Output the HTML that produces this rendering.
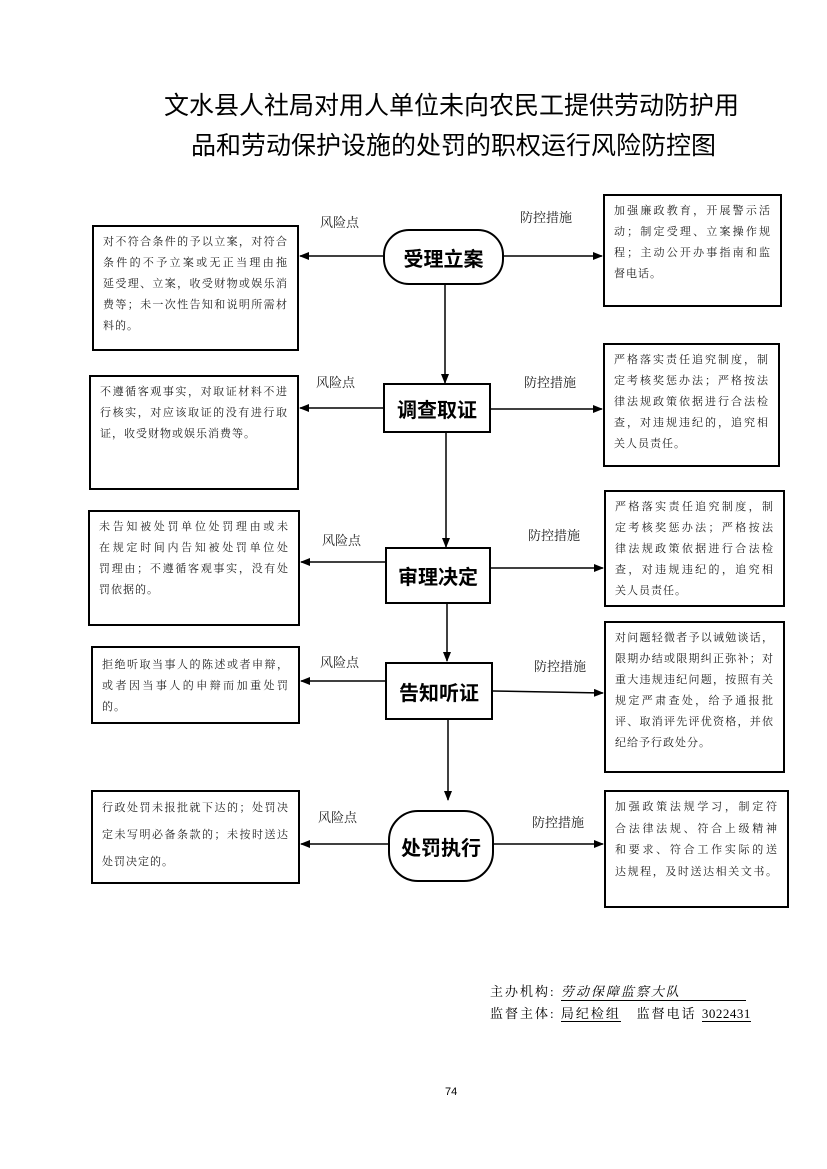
<!DOCTYPE html>
<html><head><meta charset="utf-8"><style>
body{margin:0;width:827px;height:1169px;background:#fff;position:relative;font-family:"Liberation Serif","Noto Serif CJK SC",serif;overflow:hidden}
.a{position:absolute}
.t{font-family:"Liberation Sans","Noto Sans CJK SC",sans-serif;font-size:25px;text-align:center;width:827px;color:#000}
.b{position:absolute;border:2px solid #000;box-sizing:border-box;font-size:11px;line-height:21px;padding:5px 9px 0 9px;color:#222;letter-spacing:1px}
.b div{white-space:nowrap;text-align:justify;text-align-last:justify}
.b div.e{text-align-last:left}
.n{position:absolute;border:2px solid #000;box-sizing:border-box;font-family:"Liberation Sans","Noto Sans CJK SC",sans-serif;font-weight:bold;font-size:20px;display:flex;align-items:center;justify-content:center;background:#fff}
.l{position:absolute;font-size:13px;color:#222}
</style></head><body>
<div class="a t" style="top:86px;left:38px">文水县人社局对用人单位未向农民工提供劳动防护用</div>
<div class="a t" style="top:126px;left:40px">品和劳动保护设施的处罚的职权运行风险防控图</div>
<svg class="a" style="left:0;top:0" width="827" height="1169">
<defs><marker id="m" markerWidth="10" markerHeight="8" refX="9" refY="4" orient="auto" markerUnits="userSpaceOnUse"><path d="M0,0L10,4L0,8z"/></marker></defs>
<g stroke="#000" stroke-width="1.5" marker-end="url(#m)">
<line x1="383" y1="256" x2="300" y2="256"/><line x1="503" y1="256" x2="602" y2="256"/>
<line x1="445" y1="284" x2="445" y2="383"/>
<line x1="383" y1="408" x2="300" y2="408"/><line x1="490" y1="409" x2="602" y2="409"/>
<line x1="446" y1="432" x2="446" y2="547"/>
<line x1="385" y1="562" x2="301" y2="562"/><line x1="490" y1="568" x2="603" y2="568"/>
<line x1="447" y1="603" x2="447" y2="661"/>
<line x1="385" y1="681" x2="301" y2="681"/><line x1="493" y1="691" x2="603" y2="693"/>
<line x1="448" y1="719" x2="448" y2="800"/>
<line x1="388" y1="844" x2="301" y2="844"/><line x1="493" y1="844" x2="603" y2="844"/>
</g></svg>
<div class="n" style="left:383px;top:229px;width:121px;height:56px;border-radius:26px">受理立案</div>
<div class="n" style="left:383px;top:383px;width:108px;height:50px">调查取证</div>
<div class="n" style="left:385px;top:547px;width:106px;height:57px">审理决定</div>
<div class="n" style="left:385px;top:662px;width:108px;height:58px">告知听证</div>
<div class="n" style="left:388px;top:810px;width:106px;height:72px;border-radius:30px">处罚执行</div>

<div class="b" style="left:92px;top:225px;width:207px;height:126px"><div>对不符合条件的予以立案，对符合</div><div>条件的不予立案或无正当理由拖</div><div>延受理、立案，收受财物或娱乐消</div><div>费等；未一次性告知和说明所需材</div><div class="e">料的。</div></div>
<div class="b" style="left:603px;top:194px;width:179px;height:113px"><div>加强廉政教育，开展警示活</div><div>动；制定受理、立案操作规</div><div>程；主动公开办事指南和监</div><div class="e">督电话。</div></div>
<div class="b" style="left:89px;top:375px;width:210px;height:115px"><div>不遵循客观事实，对取证材料不进</div><div>行核实，对应该取证的没有进行取</div><div class="e">证，收受财物或娱乐消费等。</div></div>
<div class="b" style="left:603px;top:343px;width:177px;height:124px"><div>严格落实责任追究制度，制</div><div>定考核奖惩办法；严格按法</div><div>律法规政策依据进行合法检</div><div>查，对违规违纪的，追究相</div><div class="e">关人员责任。</div></div>
<div class="b" style="left:88px;top:510px;width:212px;height:116px"><div>未告知被处罚单位处罚理由或未</div><div>在规定时间内告知被处罚单位处</div><div>罚理由；不遵循客观事实，没有处</div><div class="e">罚依据的。</div></div>
<div class="b" style="left:604px;top:490px;width:181px;height:117px"><div>严格落实责任追究制度，制</div><div>定考核奖惩办法；严格按法</div><div>律法规政策依据进行合法检</div><div>查，对违规违纪的，追究相</div><div class="e">关人员责任。</div></div>
<div class="b" style="left:91px;top:646px;width:209px;height:78px;padding-top:7px"><div>拒绝听取当事人的陈述或者申辩，</div><div>或者因当事人的申辩而加重处罚</div><div class="e">的。</div></div>
<div class="b" style="left:604px;top:621px;width:181px;height:152px"><div>对问题轻微者予以诫勉谈话，</div><div>限期办结或限期纠正弥补；对</div><div>重大违规违纪问题，按照有关</div><div>规定严肃查处，给予通报批</div><div>评、取消评先评优资格，并依</div><div class="e">纪给予行政处分。</div></div>
<div class="b" style="left:91px;top:790px;width:209px;height:94px;line-height:27px;padding-top:3px"><div>行政处罚未报批就下达的；处罚决</div><div>定未写明必备条款的；未按时送达</div><div class="e">处罚决定的。</div></div>
<div class="b" style="left:604px;top:790px;width:185px;height:118px;line-height:21.5px"><div>加强政策法规学习，制定符</div><div>合法律法规、符合上级精神</div><div>和要求、符合工作实际的送</div><div>达规程，及时送达相关文书。</div></div>

<div class="l" style="left:320px;top:212px">风险点</div><div class="l" style="left:520px;top:207px">防控措施</div>
<div class="l" style="left:316px;top:372px">风险点</div><div class="l" style="left:524px;top:372px">防控措施</div>
<div class="l" style="left:322px;top:530px">风险点</div><div class="l" style="left:528px;top:525px">防控措施</div>
<div class="l" style="left:320px;top:652px">风险点</div><div class="l" style="left:534px;top:656px">防控措施</div>
<div class="l" style="left:318px;top:807px">风险点</div><div class="l" style="left:532px;top:812px">防控措施</div>

<div class="a" style="left:490px;top:981px;font-size:13px;letter-spacing:2px;white-space:nowrap">主办机构: <span style="display:inline-block;width:185px;border-bottom:1px solid #000;font-style:italic">劳动保障监察大队</span></div>
<div class="a" style="left:490px;top:1003px;font-size:13px;letter-spacing:2px;white-space:nowrap">监督主体: <span style="border-bottom:1px solid #000">局纪检组</span>&nbsp;&nbsp;&nbsp;监督电话 <span style="border-bottom:1px solid #000;letter-spacing:0.5px">3022431</span></div>
<div class="a" style="left:445px;top:1086px;font-size:11px;font-family:'Liberation Sans',sans-serif">74</div>
</body></html>
